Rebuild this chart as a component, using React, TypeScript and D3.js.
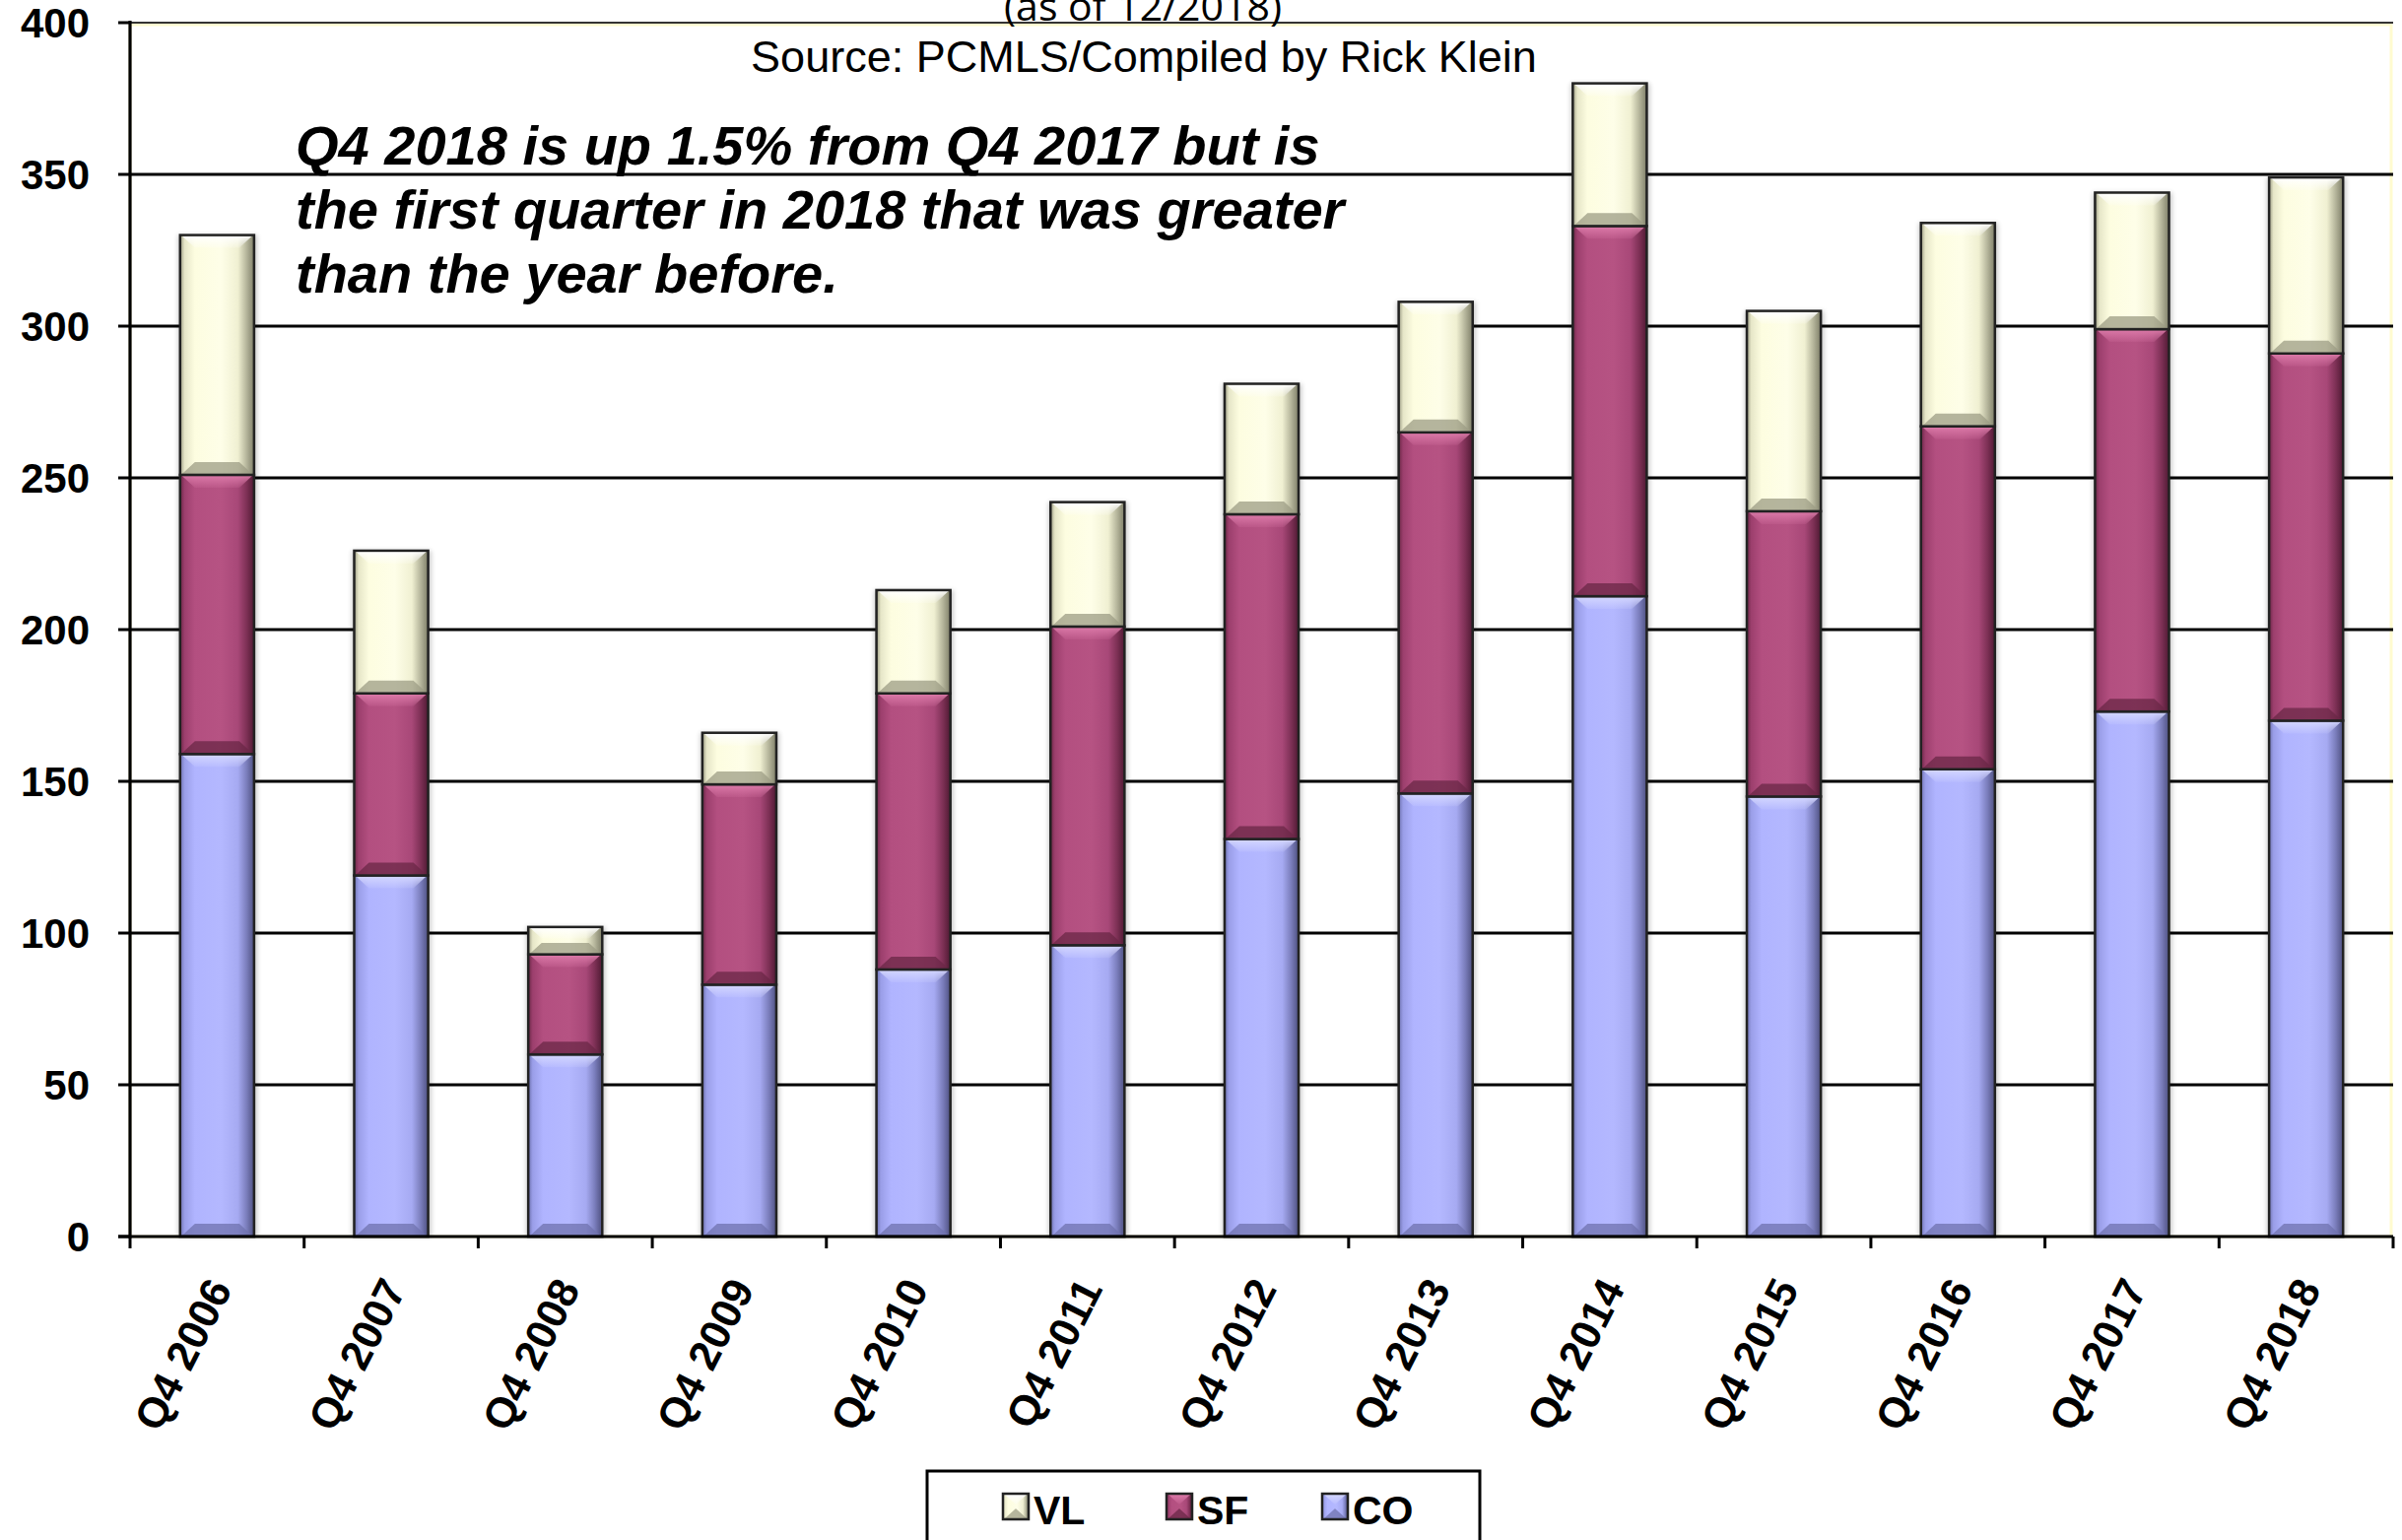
import React from 'react';
import * as d3 from 'd3';

// Quarterly counts by property type (Q4 of each year)
const categories = [
  'Q4 2006', 'Q4 2007', 'Q4 2008', 'Q4 2009', 'Q4 2010', 'Q4 2011', 'Q4 2012',
  'Q4 2013', 'Q4 2014', 'Q4 2015', 'Q4 2016', 'Q4 2017', 'Q4 2018',
];
const coValues = [159, 119, 60, 83, 88, 96, 131, 146, 211, 145, 154, 173, 170];
const sfValues = [92, 60, 33, 66, 91, 105, 107, 119, 122, 94, 113, 126, 121];
const vlValues = [79, 47, 9, 17, 34, 41, 43, 43, 47, 66, 67, 45, 58];
const yTicks = [0, 50, 100, 150, 200, 250, 300, 350, 400];

const seriesKeys = ['CO', 'SF', 'VL'];
const legendOrder = ['VL', 'SF', 'CO'];

const palette: Record<string, { stops: [number, string][]; top: string; bottom: string }> = {
  CO: {
    stops: [[0, '#6e72b0'], [0.06, '#9a9ee8'], [0.2, '#b0b4ff'], [0.55, '#b4b8ff'], [0.78, '#a6aaf2'], [0.9, '#7a7dbb'], [1, '#4e5080']],
    top: '#d4d7ff',
    bottom: '#6f72ad',
  },
  SF: {
    stops: [[0, '#6b2746'], [0.06, '#9c3f6d'], [0.2, '#b34f80'], [0.55, '#b65383'], [0.78, '#a84878'], [0.9, '#7d3055'], [1, '#4f1a33']],
    top: '#dc7aa9',
    bottom: '#6a2746',
  },
  VL: {
    stops: [[0, '#9a9a82'], [0.06, '#e6e6c8'], [0.2, '#fdfde0'], [0.55, '#fefee8'], [0.78, '#f0f0d2'], [0.9, '#b4b49a'], [1, '#7e7e68']],
    top: '#ffffff',
    bottom: '#9c9c84',
  },
};

const W = 2438;
const H = 1563;
const plot = { left: 132, right: 2429, top: 23, bottom: 1255 };
const FONT = '"Liberation Sans", Arial, sans-serif';

function Segment({ x, y, w, h, k }: { x: number; y: number; w: number; h: number; k: string }) {
  const b = Math.max(2, Math.min(13, h / 2.4));
  const p = palette[k];
  const topPts = [
    [x + 2, y + 1], [x + w - 2, y + 1], [x + w - 2 - b, y + b], [x + 2 + b, y + b],
  ].map((d) => d.join(',')).join(' ');
  const botPts = [
    [x + 2, y + h - 1], [x + w - 2, y + h - 1], [x + w - 2 - b, y + h - b], [x + 2 + b, y + h - b],
  ].map((d) => d.join(',')).join(' ');
  return (
    <g>
      <rect x={x} y={y} width={w} height={h} fill={`url(#grad-${k})`} />
      <polygon points={topPts} fill={`url(#top-${k})`} />
      <polygon points={botPts} fill={p.bottom} opacity={0.75} />
      <rect x={x} y={y} width={w} height={h} fill="none" stroke="#222" strokeWidth={2.5} />
    </g>
  );
}

export default function App() {
  const x = d3.scaleBand<string>().domain(categories).range([plot.left, plot.right]).padding(0);
  const y = d3.scaleLinear().domain([0, 400]).range([plot.bottom, plot.top]);
  const step = x.bandwidth();
  const barW = step * 0.425;

  const rows = categories.map((c, i) => ({ cat: c, CO: coValues[i], SF: sfValues[i], VL: vlValues[i] }));
  const stacked = d3.stack<any>().keys(seriesKeys)(rows);

  const boundaries = d3.range(categories.length + 1).map((i) => plot.left + i * step);

  return (
    <svg
      width={W}
      height={H}
      style={{ position: 'absolute', left: 0, top: 0, background: '#fff' }}
      xmlns="http://www.w3.org/2000/svg"
    >
      <defs>
        {seriesKeys.map((k) => (
          <linearGradient key={`g-${k}`} id={`grad-${k}`} x1="0" x2="1" y1="0" y2="0">
            {palette[k].stops.map(([o, c], i) => (
              <stop key={i} offset={o} stopColor={c} />
            ))}
          </linearGradient>
        ))}
        {seriesKeys.map((k) => (
          <linearGradient key={`t-${k}`} id={`top-${k}`} x1="0" x2="0" y1="0" y2="1">
            <stop offset={0} stopColor={palette[k].top} stopOpacity={0.95} />
            <stop offset={1} stopColor={palette[k].top} stopOpacity={0.15} />
          </linearGradient>
        ))}
        <filter id="barShadow" x="-20%" y="-5%" width="140%" height="110%">
          <feGaussianBlur stdDeviation={2.5} />
        </filter>
      </defs>

      <rect x={0} y={0} width={W} height={H} fill="#ffffff" />

      {/* plot area border */}
      <rect
        x={plot.left}
        y={plot.top + 2}
        width={plot.right - plot.left - 2}
        height={plot.bottom - plot.top - 2}
        fill="none"
        stroke="#fffbd0"
        strokeWidth={3}
      />

      {/* horizontal gridlines */}
      {yTicks.filter((t) => t > 0).map((t) => (
        <line
          key={`grid-${t}`}
          x1={plot.left}
          x2={plot.right}
          y1={y(t)}
          y2={y(t)}
          stroke={t === 400 ? '#333' : '#000'}
          strokeWidth={t === 400 ? 2 : 3}
        />
      ))}

      {/* y ticks and labels */}
      {yTicks.map((t) => (
        <g key={`yt-${t}`}>
          <line x1={plot.left - 12} x2={plot.left} y1={y(t)} y2={y(t)} stroke="#000" strokeWidth={3} />
          <text
            x={91}
            y={y(t)}
            dy="0.36em"
            textAnchor="end"
            fontFamily={FONT}
            fontWeight="bold"
            fontSize={42}
            fill="#000"
          >
            {t}
          </text>
        </g>
      ))}

      {/* bar shadows */}
      {rows.map((r, i) => {
        const bx = (x(r.cat) as number) + (step - barW) / 2;
        const top = y(r.CO + r.SF + r.VL);
        return (
          <rect
            key={`sh-${i}`}
            x={bx - 2}
            y={top}
            width={barW + 5}
            height={plot.bottom - top}
            fill="#000"
            opacity={0.22}
            filter="url(#barShadow)"
          />
        );
      })}

      {/* stacked bars */}
      {stacked.map((layer) => (
        <g key={layer.key}>
          {layer.map((d, i) => {
            const bx = (x(categories[i]) as number) + (step - barW) / 2;
            const y0 = y(d[1]);
            const y1 = y(d[0]);
            return <Segment key={i} x={bx} y={y0} w={barW} h={y1 - y0} k={layer.key} />;
          })}
        </g>
      ))}

      {/* axes */}
      <line x1={plot.left} x2={plot.left} y1={plot.top - 2} y2={plot.bottom + 1.5} stroke="#000" strokeWidth={3.2} />
      <line x1={plot.left - 12} x2={plot.right} y1={plot.bottom} y2={plot.bottom} stroke="#000" strokeWidth={3.2} />
      {boundaries.map((bx, i) => (
        <line key={`xt-${i}`} x1={bx} x2={bx} y1={plot.bottom} y2={plot.bottom + 12} stroke="#000" strokeWidth={3} />
      ))}

      {/* category labels */}
      {categories.map((c) => {
        const cx = (x(c) as number) + step / 2;
        return (
          <text
            key={`xl-${c}`}
            transform={`translate(${cx + 16},${1308}) rotate(-63)`}
            textAnchor="end"
            fontFamily={FONT}
            fontWeight="bold"
            fontSize={43}
            fill="#000"
          >
            {c}
          </text>
        );
      })}

      {/* titles */}
      <text x={1160} y={21} textAnchor="middle" fontFamily='"Open Sans", sans-serif' fontSize={41} fill="#000">
        (as of 12/2018)
      </text>
      <text x={1161} y={73} textAnchor="middle" fontFamily={FONT} fontSize={45} fill="#000">
        Source: PCMLS/Compiled by Rick Klein
      </text>

      {/* annotation */}
      <text fontFamily={FONT} fontWeight="bold" fontStyle="italic" fontSize={56} fill="#000">
        <tspan x={300} y={167}>Q4 2018 is up 1.5% from Q4 2017 but is</tspan>
        <tspan x={300} y={232}>the first quarter in 2018 that was greater</tspan>
        <tspan x={300} y={297}>than the year before.</tspan>
      </text>

      {/* legend */}
      <rect x={941} y={1493} width={561} height={120} fill="#fff" stroke="#000" strokeWidth={3} />
      {legendOrder.map((k, i) => {
        const lx = [1018, 1184, 1342][i];
        return (
          <g key={`lg-${k}`}>
            <Segment x={lx} y={1516} w={26} h={26} k={k} />
            <text x={lx + 31} y={1547} fontFamily={FONT} fontWeight="bold" fontSize={41} fill="#000">
              {k}
            </text>
          </g>
        );
      })}
    </svg>
  );
}
